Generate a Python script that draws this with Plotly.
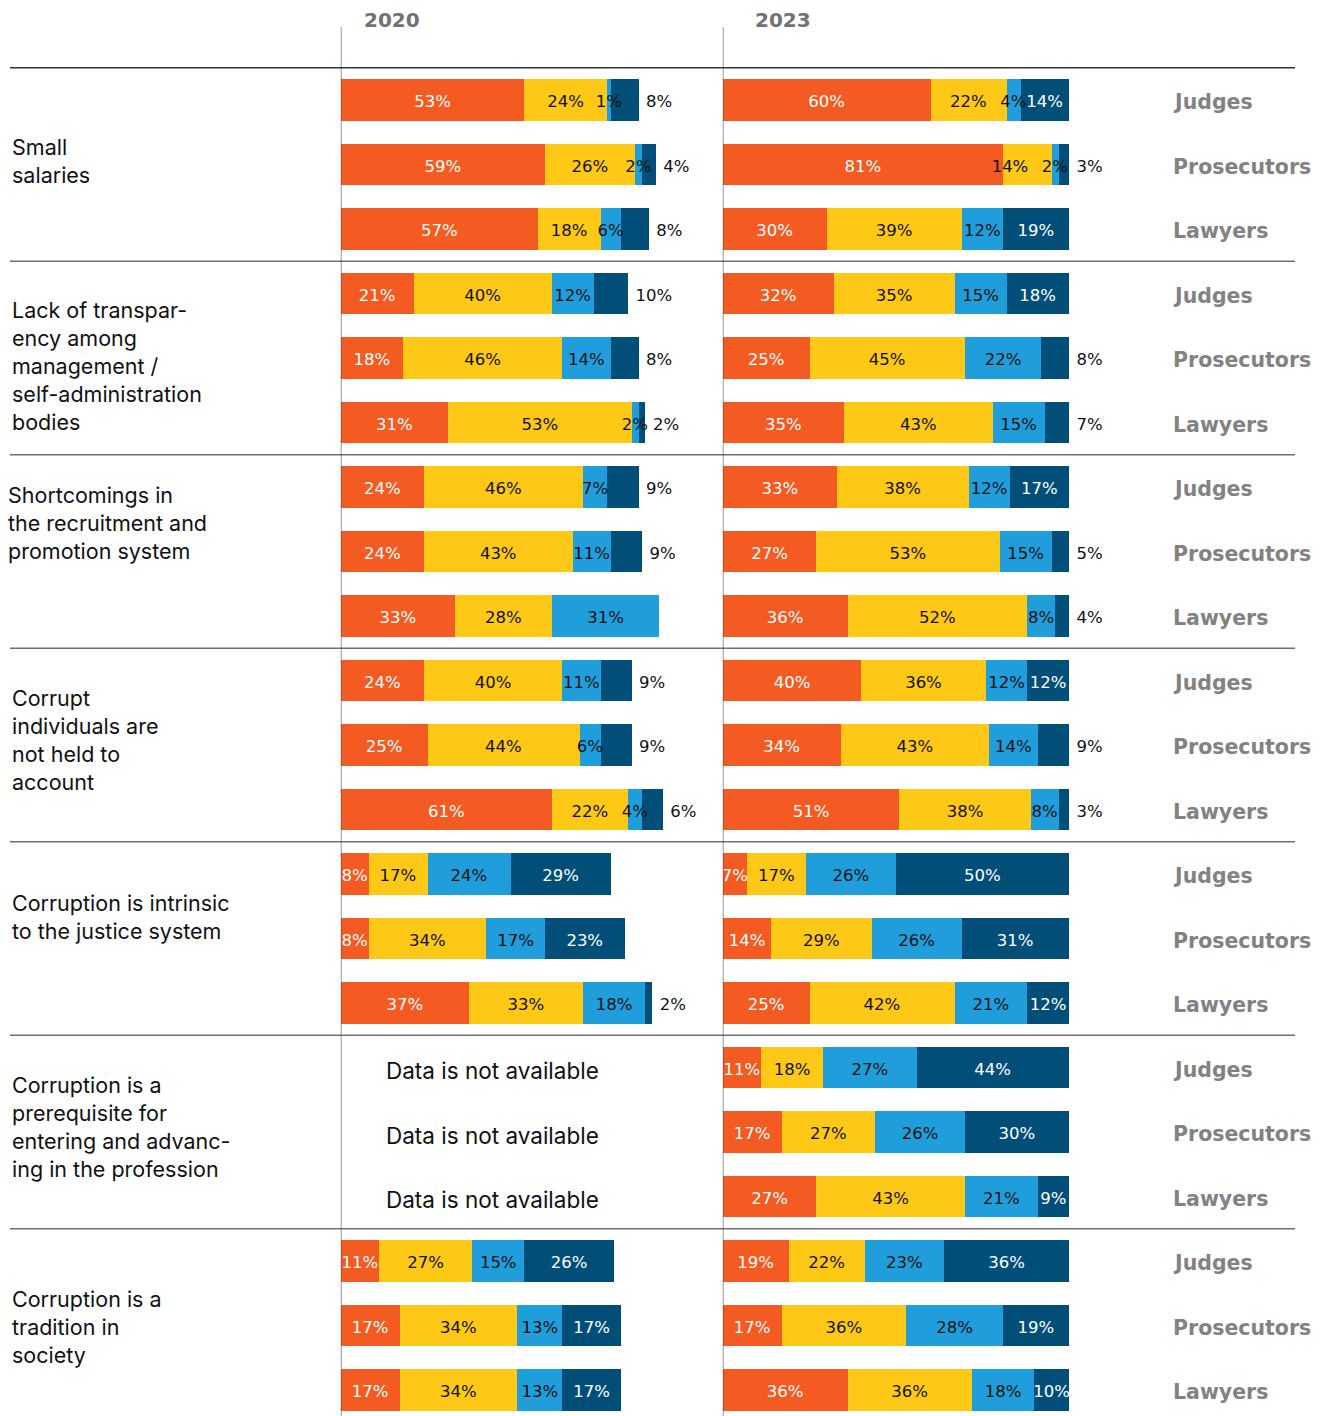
import plotly.graph_objects as go

# ---------------- data ----------------
categories = [
    ["Small", "salaries"],
    ["Lack of transpar-", "ency among", "management /", "self-administration", "bodies"],
    ["Shortcomings in", "the recruitment and", "promotion system"],
    ["Corrupt", "individuals are", "not held to", "account"],
    ["Corruption is intrinsic", "to the justice system"],
    ["Corruption is a", "prerequisite for", "entering and advanc-", "ing in the profession"],
    ["Corruption is a", "tradition in", "society"],
]
roles = ["Judges", "Prosecutors", "Lawyers"]
years = ["2020", "2023"]
no_data_text = "Data is not available"

# order of bars: category 1 (Judges, Prosecutors, Lawyers), category 2 (...), ...
orange_2020 = [53, 59, 57, 21, 18, 31, 24, 24, 33, 24, 25, 61, 8, 8, 37, None, None, None, 11, 17, 17]
yellow_2020 = [24, 26, 18, 40, 46, 53, 46, 43, 28, 40, 44, 22, 17, 34, 33, None, None, None, 27, 34, 34]
lblue_2020 = [1, 2, 6, 12, 14, 2, 7, 11, 31, 11, 6, 4, 24, 17, 18, None, None, None, 15, 13, 13]
dblue_2020 = [8, 4, 8, 10, 8, 2, 9, 9, None, 9, 9, 6, 29, 23, 2, None, None, None, 26, 17, 17]

orange_2023 = [60, 81, 30, 32, 25, 35, 33, 27, 36, 40, 34, 51, 7, 14, 25, 11, 17, 27, 19, 17, 36]
yellow_2023 = [22, 14, 39, 35, 45, 43, 38, 53, 52, 36, 43, 38, 17, 29, 42, 18, 27, 43, 22, 36, 36]
lblue_2023 = [4, 2, 12, 15, 22, 15, 12, 15, 8, 12, 14, 8, 26, 26, 21, 27, 26, 21, 23, 28, 18]
dblue_2023 = [14, 3, 19, 18, 8, 7, 17, 5, 4, 12, 9, 3, 50, 31, 12, 44, 30, 9, 36, 19, 10]

series_2020 = [orange_2020, yellow_2020, lblue_2020, dblue_2020]
series_2023 = [orange_2023, yellow_2023, lblue_2023, dblue_2023]

# ---------------- style ----------------
W, H = 1327, 1416
OFF = 8  # page body margin in the browser
colors = ["#F35B22", "#FEC817", "#1F9EDB", "#014F78"]
text_colors = ["white", "#111111", "#111111", "white"]
label_font = "DejaVu Sans"
cat_font = "Inter"
PX_PER_PCT = 3.46
ROW_PX = 64.5
FIRST_ROW_PX = 100
X0_2020, X0_2023 = 340.8, 722.8
inside_exceptions_2023 = {17, 20}
label_x_nudge = {("2023", 1, 1): -5.0}   # (year, series, bar) -> shift in %
label_nudge_px = [-3.5, 7.5, -29, -5.5, -22, -5, 1.5]
label_x_px = [10, 10, 6, 10, 10, 10, 10]
TEXT_DY = 3 / ROW_PX
ROLE_DY = 2 / ROW_PX

n_bars = len(categories) * len(roles)
ypos = list(range(n_bars))


def px_to_row(py):
    return (py - FIRST_ROW_PX) / ROW_PX


def xp(px):  # reference pixel -> paper x
    return (px - OFF) / W


def yp(py):  # reference pixel -> paper y
    return 1 - (py - OFF) / H


fig = go.Figure()

for year, series, xa in [("2020", series_2020, "x"), ("2023", series_2023, "x2")]:
    for si, vals in enumerate(series):
        fig.add_trace(go.Bar(
            x=vals, y=ypos, orientation="h", xaxis=xa, yaxis="y",
            marker=dict(color=colors[si], line=dict(width=0)),
            width=0.65, showlegend=False, hoverinfo="skip",
        ))
    for si, vals in enumerate(series):
        xs_in, ys_in, ts_in = [], [], []
        xs_out, ys_out, ts_out = [], [], []
        for k in range(n_bars):
            v = vals[k]
            if v is None:
                continue
            base = sum((series[j][k] or 0) for j in range(si))
            total = sum((series[j][k] or 0) for j in range(4))
            outside = (si == 3 and v <= 10 and not (year == "2023" and k in inside_exceptions_2023))
            if outside:
                xs_out.append(total + 2.2)
                ys_out.append(k + TEXT_DY)
                ts_out.append(f"{v}%")
            else:
                xs_in.append(base + v / 2 + label_x_nudge.get((year, si, k), 0))
                ys_in.append(k + TEXT_DY)
                ts_in.append(f"{v}%")
        fig.add_trace(go.Scatter(
            x=xs_in, y=ys_in, text=ts_in, mode="text", xaxis=xa, yaxis="y",
            textposition="middle center", cliponaxis=False,
            textfont=dict(family=label_font, size=16.5, color=text_colors[si]),
            showlegend=False, hoverinfo="skip",
        ))
        if xs_out:
            fig.add_trace(go.Scatter(
                x=xs_out, y=ys_out, text=ts_out, mode="text", xaxis=xa, yaxis="y",
                textposition="middle right", cliponaxis=False,
                textfont=dict(family=label_font, size=16.5, color="#111111"),
                showlegend=False, hoverinfo="skip",
            ))

shapes = []
for g in range(len(categories)):
    yv = 3 * g - 0.5
    shapes.append(dict(type="line", xref="paper", yref="y", x0=xp(10), x1=xp(1295), y0=yv, y1=yv,
                       line=dict(color="#333333" if g == 0 else "#6e6e6e", width=1.4), layer="above"))
for xa in ["x", "x2"]:
    shapes.append(dict(type="line", xref=xa, yref="paper", x0=0, x1=0, y0=0, y1=yp(27),
                       line=dict(color="#444444", width=1.2), layer="above"))

annotations = []
for year, xpx in zip(years, [362, 753]):
    annotations.append(dict(text=year, xref="paper", yref="paper", x=xp(xpx), y=yp(20),
                            xanchor="left", yanchor="middle", showarrow=False,
                            font=dict(family="DejaVu Sans", size=20, color="#727272", weight="bold")))
for g, lines in enumerate(categories):
    center_px = FIRST_ROW_PX + ROW_PX * (3 * g + 1) + label_nudge_px[g]
    annotations.append(dict(text="<br>".join(lines), xref="paper", yref="y", x=xp(label_x_px[g]),
                            y=px_to_row(center_px), xanchor="left", yanchor="middle", align="left",
                            showarrow=False, font=dict(family=cat_font, size=21.5, color="#111111")))
    for r, role in enumerate(roles):
        k = 3 * g + r
        annotations.append(dict(text=role, xref="paper", yref="y", x=xp(1171), y=k + ROLE_DY,
                                xanchor="left", yanchor="middle", showarrow=False,
                                font=dict(family="DejaVu Sans", size=20.5, color="#828282", weight="bold")))
for k in range(n_bars):
    if all(s[k] is None for s in series_2020):
        annotations.append(dict(text=no_data_text, xref="paper", yref="y", x=xp(384), y=k + TEXT_DY,
                                xanchor="left", yanchor="middle", showarrow=False,
                                font=dict(family=cat_font, size=22.5, color="#111111")))

ax_common = dict(visible=False, showgrid=False, zeroline=False, fixedrange=True)
fig.update_layout(
    width=W, height=H, margin=dict(l=0, r=0, t=0, b=0),
    paper_bgcolor="white", plot_bgcolor="white",
    barmode="stack", bargap=0,
    xaxis=dict(domain=[xp(X0_2020), xp(X0_2023)], range=[0, (X0_2023 - X0_2020) / PX_PER_PCT], **ax_common),
    xaxis2=dict(domain=[xp(X0_2023), 1], range=[0, (W + OFF - X0_2023) / PX_PER_PCT], **ax_common),
    yaxis=dict(range=[px_to_row(H + OFF), px_to_row(OFF)], **ax_common),
    shapes=shapes, annotations=annotations, showlegend=False,
)

fig.write_html("out.html")
